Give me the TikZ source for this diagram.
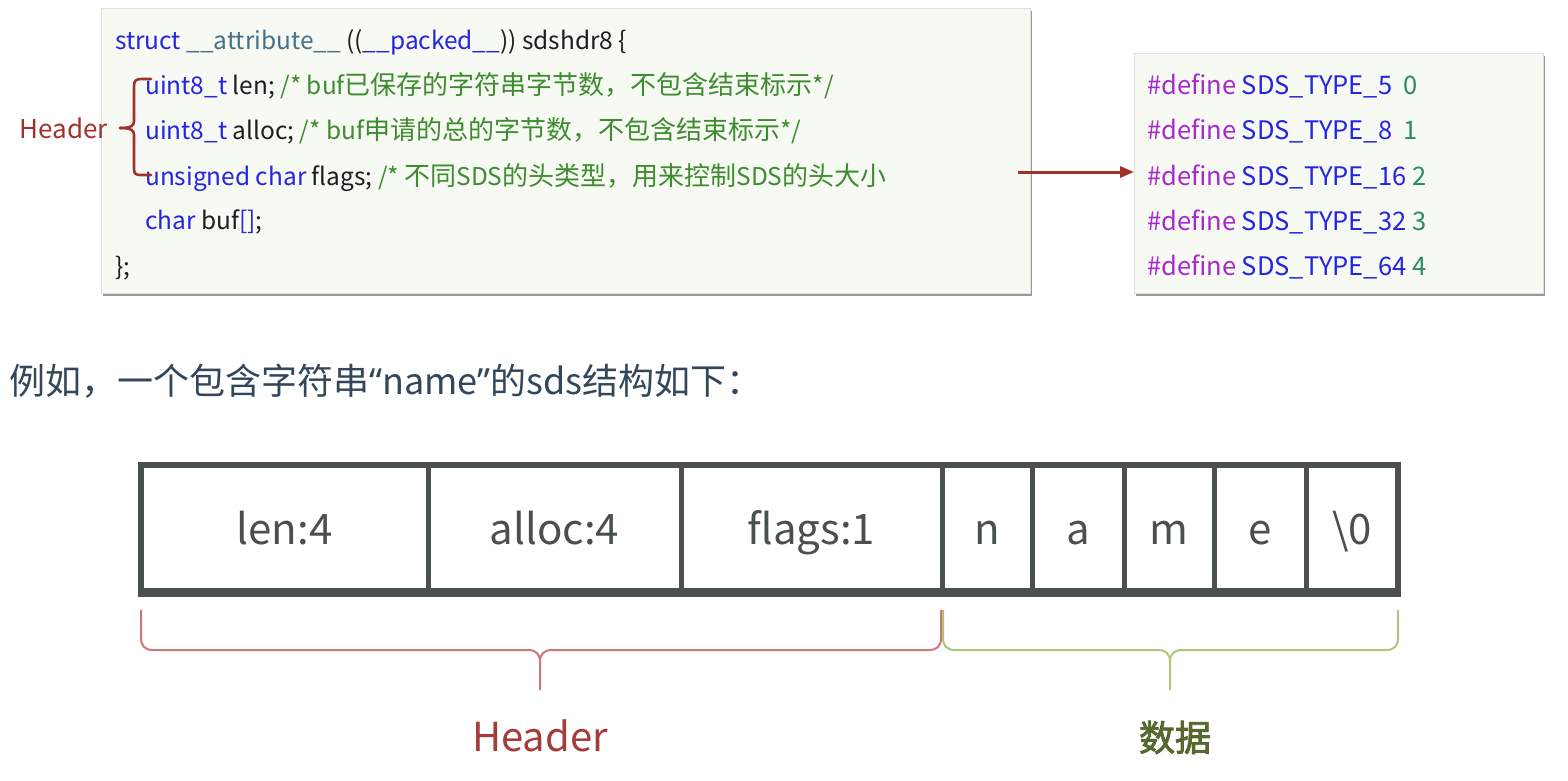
\documentclass[tikz,border=0pt]{standalone}
\usepackage{fontspec}
\setmainfont{Noto Sans CJK SC}
\newfontfamily\latinq{Noto Sans}
\newfontfamily\codelatin[Scale=0.94]{Noto Sans CJK SC}
\newcommand\codeL[1]{{\codelatin #1}}
\newfontfamily\cjkb[FakeBold=2.5]{Noto Sans CJK SC}
\usetikzlibrary{arrows.meta,shadows}
\definecolor{kw}{RGB}{36,36,225}
\definecolor{attr}{RGB}{70,112,140}
\definecolor{txt}{RGB}{30,30,30}
\definecolor{cm}{RGB}{62,140,48}
\definecolor{defc}{RGB}{168,40,205}
\definecolor{numc}{RGB}{40,140,100}
\definecolor{hdr}{RGB}{160,50,44}
\definecolor{codebg}{RGB}{247,249,243}
\definecolor{sent}{RGB}{52,70,90}
\definecolor{cellc}{RGB}{74,80,80}
\definecolor{rbr}{RGB}{205,120,120}
\definecolor{gbr}{RGB}{172,200,118}
\definecolor{hdrb}{RGB}{165,60,60}
\definecolor{datac}{RGB}{86,104,46}
\begin{document}
\begin{tikzpicture}[x=1pt,y=-1pt,
  codebox/.style={draw=black!12, fill=codebg, inner sep=0pt, anchor=north west,
    drop shadow={shadow xshift=2pt, shadow yshift=-3pt, fill=black!50, opacity=0.8}},
  code/.style={anchor=base west, inner sep=0pt, text=txt, font=\fontsize{26}{30}\selectfont},
  defline/.style={anchor=base west, inner sep=0pt, text=txt, font=\fontsize{25.5}{30}\selectfont},
  celltext/.style={anchor=base, inner sep=0pt, text=cellc, font=\fontsize{42}{46}\selectfont},
  cellline/.style={draw=cellc, line width=5pt},
  rbrace/.style={draw=rbr, line width=2pt},
  gbrace/.style={draw=gbr, line width=2pt},
  hbrace/.style={draw=hdr, line width=2.6pt, line cap=round, line join=round}]
\useasboundingbox (0,0) rectangle (1568,780);

% code box
\node[codebox, minimum width=929pt, minimum height=285pt] (codebox) at (101,8) {};
\node[code] (l1) at (115,49) {\codeL{\color{kw}struct \color{attr}\_\_attribute\_\_ \color{txt}((\color{kw}\_\_packed\_\_\color{txt})) sdshdr8 \{}};
\node[code] (l2) at (145,94) {\codeL{\color{kw}uint8\_t \color{txt}len; \color{cm}/* buf}\color{cm}已保存的字符串字节数，不包含结束标示\codeL{*/}};
\node[code] (l3) at (145,139) {\codeL{\color{kw}uint8\_t \color{txt}alloc; \color{cm}/* buf}\color{cm}申请的总的字节数，不包含结束标示\codeL{*/}};
\node[code] (l4) at (145,185) {\codeL{\color{kw}unsigned char \color{txt}flags; \color{cm}/* }\color{cm}不同\codeL{SDS}的头类型，用来控制\codeL{SDS}的头大小};
\node[code] (l5) at (145,229) {\codeL{\color{kw}char \color{txt}buf\color{kw}[]\color{txt};}};
\node[code] (l6) at (115,275) {\codeL{\};}};

% left Header brace
\node[anchor=east, inner sep=0pt, text=hdr, font=\fontsize{26}{30}\selectfont] (hl) at (108,128) {Header};
\draw[hbrace] (151,79) -- (141,79) .. controls (136,79) and (134,81) .. (134,86) -- (134,121)
  .. controls (134,126) and (131,128) .. (120,128);
\draw[hbrace] (120,128) .. controls (131,128) and (134,130) .. (134,135) -- (134,169)
  .. controls (134,174) and (136,175) .. (141,175) -- (151,175);

% define box
\node[codebox, minimum width=409pt, minimum height=240pt] (defbox) at (1134,53) {};
\node[defline] (d1) at (1147,94) {\color{defc}\#define \color{kw}SDS\_TYPE\_5\ \ \color{numc}0};
\node[defline] (d2) at (1147,139) {\color{defc}\#define \color{kw}SDS\_TYPE\_8\ \ \color{numc}1};
\node[defline] (d3) at (1147,185) {\color{defc}\#define \color{kw}SDS\_TYPE\_16 \color{numc}2};
\node[defline] (d4) at (1147,230) {\color{defc}\#define \color{kw}SDS\_TYPE\_32 \color{numc}3};
\node[defline] (d5) at (1147,275) {\color{defc}\#define \color{kw}SDS\_TYPE\_64 \color{numc}4};

% arrow
\coordinate (as) at (1018,172);
\draw[draw=hdr, line width=3pt, -{Triangle[length=14pt,width=11pt]}] (as) -- (defbox.west |- as);

% sentence
\node[anchor=base west, inner sep=0pt, text=sent, font=\fontsize{36}{40}\selectfont] (sent) at (9,394)
  {例如，一个包含字符串{\latinq “}name{\latinq ”}的sds结构如下：};

% memory layout
\draw[cellline, line width=6pt] (141,465) rectangle (1398,592);
\draw[cellline, line width=9pt] (138,592) -- (1401,592);
\foreach \xx in {428,681,942,1032,1124,1214,1306}{
  \draw[cellline] (\xx,465) -- (\xx,592);
}
\node[celltext] (c1) at (284.5,544) {len:4};
\node[celltext] (c2) at (554.5,544) {alloc:4};
\node[celltext] (c3) at (811.5,544) {flags:1};
\node[celltext] (c4) at (987,544) {n};
\node[celltext] (c5) at (1078,544) {a};
\node[celltext] (c6) at (1169,544) {m};
\node[celltext] (c7) at (1260,544) {e};
\node[celltext] (c8) at (1352,544) {\textbackslash 0};

% braces
\draw[rbrace] (141,610) -- (141,638) .. controls (141,646) and (145,650) .. (153,650) -- (528,650)
  .. controls (536,650) and (540,654) .. (540,662) -- (540,690);
\draw[rbrace] (941,610) -- (941,638) .. controls (941,646) and (937,650) .. (929,650) -- (552,650)
  .. controls (544,650) and (540,654) .. (540,662);
\draw[gbrace] (943,610) -- (943,638) .. controls (943,646) and (947,650) .. (955,650) -- (1158,650)
  .. controls (1166,650) and (1170,654) .. (1170,662) -- (1170,690);
\draw[gbrace] (1398,610) -- (1398,638) .. controls (1398,646) and (1394,650) .. (1386,650) -- (1182,650)
  .. controls (1174,650) and (1170,654) .. (1170,662);

\node[anchor=base, inner sep=0pt, text=hdrb, font=\fontsize{40}{44}\selectfont] (hb) at (540,751) {Header};
\node[anchor=base, inner sep=0pt, text=datac, font=\fontsize{36}{40}\cjkb] (db) at (1175,751) {数据};
\end{tikzpicture}
\end{document}
